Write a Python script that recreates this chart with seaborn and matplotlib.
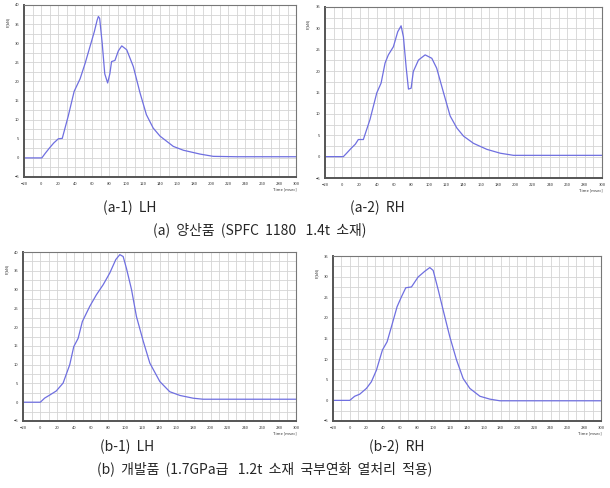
import numpy as np
import pandas as pd
import seaborn as sns
import matplotlib.pyplot as plt
from matplotlib.ticker import MultipleLocator

sns.set_style("white")
plt.rcParams['font.family'] = ['Noto Sans CJK KR', 'DejaVu Sans']

# (a-1) LH
a1_t = [-20, 1, 5, 10, 15, 20.4, 25, 32, 39, 46, 52, 57.6, 62.7, 66, 67.5, 69, 72, 75,
        78.4, 81, 83, 87, 91, 95, 100.8, 108.6, 116.5, 124, 132, 140, 155.7, 167.5,
        187, 202.7, 230, 260, 300]
a1_f = [0, 0, 1.2, 2.6, 3.9, 5, 5.1, 10.9, 17.4, 20.7, 24.8, 29.1, 33, 36, 37, 36.5, 30,
        22, 19.6, 22, 25.2, 25.5, 28, 29.3, 28.3, 23.9, 17, 11.3, 7.8, 5.7, 3, 2,
        1, 0.4, 0.3, 0.3, 0.3]

# (a-2) RH
a2_t = [-20, 1.2, 5, 10, 15, 18.5, 24.3, 32, 39.8, 44.8, 49.4, 53.2, 59, 64, 67.9, 70.6,
        73.7, 76.4, 79.5, 82, 88, 95.7, 103.4, 109, 117, 124.6, 132.3, 140, 151.6,
        167, 182.4, 197.8, 240, 300]
a2_f = [0, 0, 0.8, 1.9, 2.9, 4, 4, 8.7, 14.9, 17.2, 21.9, 23.8, 25.7, 29.2, 30.6, 28,
        21, 15.8, 16, 19.9, 22.6, 23.8, 23, 20.7, 14.9, 9.5, 6.7, 4.8, 3.1,
        1.7, 0.8, 0.3, 0.3, 0.3]

# (b-1) LH
b1_t = [-20, 0.3, 5.4, 12, 19, 27, 34.8, 39.5, 44.6, 49.6, 58.2, 66, 74, 81.7, 88.8,
        93.5, 97.4, 101.3, 107.2, 113, 121, 128.7, 140.4, 152, 164, 179.5, 191, 300]
b1_f = [0, 0, 1.1, 2, 3, 5.1, 10, 14.8, 17, 21.5, 25.5, 28.6, 31.3, 34.4, 38,
        39.3, 38.8, 35.6, 30, 22.8, 16.2, 10.4, 5.5, 2.8, 1.8, 1.07, 0.8, 0.8]

# (b-2) RH
b2_t = [-20, 0, 5.9, 11.9, 19.9, 25.8, 31.8, 39, 44.6, 49.7, 56.5, 61.7, 66.9, 73.7,
        81.6, 89.6, 95.6, 99.6, 105.5, 111.5, 119.5, 127.5, 135.4, 143.4, 155.4,
        167.3, 179.3, 300]
b2_f = [0, 0, 1, 1.5, 2.9, 4.5, 7.3, 12.2, 14.2, 17.8, 22.7, 25.1, 27.3, 27.5,
        29.9, 31.3, 32.2, 31.5, 26.9, 21.9, 15.4, 9.8, 5.3, 2.9, 1.0,
        0.3, -0.1, -0.1]

sub_labels = ['(a-1)  LH', '(a-2)  RH', '(b-1)  LH', '(b-2)  RH']
captions = ['(a)  양산품  (SPFC  1180   1.4t  소재)',
            '(b)  개발품  (1.7GPa급   1.2t  소재  국부연화  열처리  적용)']

W, H = 610, 488
fig = plt.figure(figsize=(W / 100, H / 100), dpi=100)


def box(l, t, r, b):
    return [l / W, 1 - b / H, (r - l) / W, (b - t) / H]


panels = [
    (box(24, 5, 296, 177), a1_t, a1_f, 40, 'Time [msec]'),
    (box(325, 7, 602, 178), a2_t, a2_f, 35, 'Time [msec]'),
    (box(23, 252, 296, 421), b1_t, b1_f, 40, 'Time [msec]'),
    (box(333, 256, 601, 421), b2_t, b2_f, 35, 'Time [msec]'),
]

line_color = '#6f6fe0'
for rect, t, f, ytop, xl in panels:
    ax = fig.add_axes(rect)
    df = pd.DataFrame({'t': t, 'f': f})
    sns.lineplot(data=df, x='t', y='f', ax=ax, color=line_color, lw=0.9)
    ax.set_xlim(-20, 300)
    ax.set_ylim(-5, ytop)
    ax.xaxis.set_major_locator(MultipleLocator(20))
    ax.xaxis.set_minor_locator(MultipleLocator(10))
    ax.yaxis.set_major_locator(MultipleLocator(5))
    ax.yaxis.set_minor_locator(MultipleLocator(2.5))
    ax.grid(which='both', color='#d4d4d4', lw=0.6)
    ax.set_axisbelow(True)
    ax.tick_params(which='both', labelsize=3, length=3, width=0.8, direction='inout',
                   color='#444444', pad=2, labelcolor='#333333')
    ax.tick_params(which='minor', length=2)
    for s in ['left', 'bottom']:
        ax.spines[s].set_color('#555555')
        ax.spines[s].set_linewidth(1.4)
    for s in ['top', 'right']:
        ax.spines[s].set_color('#777777')
        ax.spines[s].set_linewidth(0.8)
    ax.set_xlabel('')
    ax.set_ylabel('')
    ax.text(-0.06, 0.9, 'F(kN)', transform=ax.transAxes, rotation=90,
            fontsize=3, color='#333333', ha='center', va='center')
    ax.text(0.96, -0.075, xl, transform=ax.transAxes, fontsize=3,
            color='#333333', ha='center', va='center')

fig.text(130 / W, 1 - 208 / H, sub_labels[0], fontsize=10, ha='center', va='center')
fig.text(377 / W, 1 - 208 / H, sub_labels[1], fontsize=10, ha='center', va='center')
fig.text(260 / W, 1 - 230 / H, captions[0], fontsize=10, ha='center', va='center')
fig.text(127 / W, 1 - 447 / H, sub_labels[2], fontsize=10, ha='center', va='center')
fig.text(397 / W, 1 - 447 / H, sub_labels[3], fontsize=10, ha='center', va='center')
fig.text(265 / W, 1 - 469 / H, captions[1], fontsize=10, ha='center', va='center')

fig.savefig('out.png', dpi=100)
